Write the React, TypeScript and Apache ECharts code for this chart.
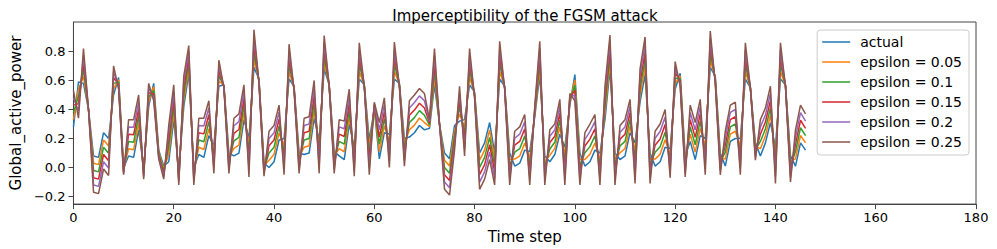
import React, { useEffect, useRef } from "react";
import * as echarts from "echarts";

// Values
const actual: number[] = [
  0.28, 0.59, 0.58, 0.40, 0.08, 0.07, 0.24, 0.20, 0.50, 0.62,
  0.00, 0.08, 0.07, 0.26, 0.00, 0.42, 0.58, 0.12, 0.01, 0.04,
  0.33, -0.02, 0.42, 0.65, 0.00, 0.09, 0.07, 0.22, 0.15, 0.56,
  0.57, 0.10, 0.08, 0.10, 0.33, 0.20, 0.69, 0.61, 0.03, 0.00,
  0.04, 0.19, 0.20, 0.61, 0.56, 0.10, 0.09, 0.10, 0.34, 0.19,
  0.68, 0.57, 0.11, 0.08, 0.055, 0.30, 0.14, 0.61, 0.57, 0.19,
  0.40, 0.06, 0.24, 0.23, 0.61, 0.58, 0.20, 0.21, 0.24, 0.29,
  0.26, 0.27, 0.57, 0.30, 0.10, 0.06, 0.29, 0.32, 0.33, 0.57,
  0.52, 0.10, 0.17, 0.31, 0.10, 0.61, 0.56, 0.10, 0.01, 0.03,
  0.12, 0.11, 0.35, 0.64, 0.08, 0.04, 0.09, 0.23, 0.14, 0.43,
  0.64, 0.10, 0.01, 0.04, 0.12, 0.10, 0.33, 0.68, 0.10, 0.055,
  0.08, 0.24, 0.17, 0.45, 0.64, 0.10, 0.01, 0.04, 0.14, 0.13,
  0.54, 0.65, 0.08, 0.18, 0.055, 0.22, 0.20, 0.69, 0.63, 0.10,
  0.01, 0.18, 0.20, 0.20, 0.61, 0.55, 0.17, 0.08, 0.17, 0.31,
  0.14, 0.61, 0.57, 0.08, 0.01, 0.17, 0.12,
];

// Direction/size of the FGSM shift per unit of epsilon, read from the gap
// between the actual line and the epsilon = 0.25 line at each step
const perturbDir: number[] = [
  1.0, -1.0, 0.96, 0.0, -1.0, -1.0, -1.0, -1.02, 0.8, -0.32,
  -0.2, 1.0, 1.04, 0.96, -0.32, 0.64, -0.48, -0.24, -0.36, 1.0,
  0.96, -0.4, 0.84, 0.76, -0.48, 1.0, 1.08, 0.96, -0.76, 0.72,
  -0.08, -0.56, 1.04, 1.08, 0.96, -1.06, 1.04, -0.12, -0.36, 1.0,
  1.0, 0.96, -1.0, 0.96, -0.12, -0.56, 1.0, 1.0, 1.04, -0.92,
  0.92, -0.04, -0.6, 1.0, 1.06, 0.96, -0.8, 1.0, -0.04, -0.96,
  0.2, 1.0, 0.96, -0.92, 1.02, -0.08, -0.76, 1.0, 1.04, 1.02,
  1.0, 0.24, 1.0, 0.0, -1.0, -1.0, -0.68, 0.96, -1.0, 1.0,
  -0.16, -1.0, -1.0, -1.02, -0.88, 1.04, -0.08, -0.88, 0.96, 1.0,
  0.98, -0.92, 0.28, 0.92, -0.8, 0.88, 0.84, 0.96, -1.04, 0.32,
  -0.72, -0.88, 0.92, 1.04, 0.98, -0.88, 0.92, 0.93, -0.88, 0.94,
  1.0, 0.92, -1.12, 0.92, 1.04, -0.84, 0.96, 1.04, 1.04, -0.8,
  0.76, -0.36, -0.58, 1.0, 1.02, 1.0, -1.0, 1.0, -0.2, -0.6,
  0.96, 1.0, 1.0, -1.0, 1.0, 0.0, -0.48, 1.0, 0.96, 1.0,
  -1.0, 1.0, -0.04, -0.72, 1.0, 1.04, 1.0,
];

const epsilons: number[] = [0.05, 0.1, 0.15, 0.2, 0.25];
const seriesNames: string[] = ["actual", "epsilon = 0.05", "epsilon = 0.1", "epsilon = 0.15", "epsilon = 0.2", "epsilon = 0.25"];
const colors: string[] = ["#1f77b4", "#ff7f0e", "#2ca02c", "#d62728", "#9467bd", "#8c564b"];
const xTicks: number[] = [0, 20, 40, 60, 80, 100, 120, 140, 160, 180];
const yTicks: number[] = [-0.2, 0.0, 0.2, 0.4, 0.6, 0.8];

const FONT = "DejaVu Sans";
const LINE_ICON = "path://M0,0L28,0L28,1.5L0,1.5Z";

export default function App() {
  const ref = useRef<HTMLDivElement>(null);

  useEffect(() => {
    if (!ref.current) return;
    const chart = echarts.init(ref.current, undefined, { renderer: "svg" });

    const actualData = actual.map((v, i) => [i, v]);
    const epsData = epsilons.map((eps) =>
      actual.map((v, i) => [i, +(v + eps * perturbDir[i]).toFixed(4)])
    );
    const allData = [actualData, ...epsData];

    const series = allData.map((d, k) => ({
      name: seriesNames[k],
      type: "line",
      data: d,
      symbol: "none",
      showSymbol: false,
      lineStyle: { width: 1.5, color: colors[k] },
      itemStyle: { color: colors[k] },
      z: 2 + k,
    }));

    const fmt = (v: number) => {
      const s = Math.abs(v) < 1e-9 ? "0.0" : v.toFixed(1);
      return s.replace("-", "\u2212");
    };

    chart.setOption({
      animation: false,
      backgroundColor: "#ffffff",
      title: {
        text: "Imperceptibility of the FGSM attack",
        left: 520,
        top: 3,
        textAlign: "center",
        textStyle: { fontFamily: FONT, fontSize: 15, fontWeight: "normal", color: "#000" },
      },
      grid: {
        left: 63,
        right: 21,
        top: 22,
        bottom: 44,
        show: true,
        borderColor: "#444",
        borderWidth: 1,
        backgroundColor: "transparent",
      },
      legend: {
        data: seriesNames.map((n) => ({ name: n, icon: LINE_ICON })),
        orient: "vertical",
        right: 28,
        top: 30,
        itemWidth: 28,
        itemHeight: 14,
        itemGap: 6,
        padding: [5, 7, 6, 5],
        backgroundColor: "rgba(255,255,255,0.8)",
        borderColor: "#cccccc",
        borderWidth: 1,
        borderRadius: 3,
        textStyle: { fontFamily: FONT, fontSize: 14, color: "#000", padding: [0, 0, 0, 5] },
      },
      xAxis: {
        type: "value",
        min: 0,
        max: 180,
        interval: 20,
        name: "Time step",
        nameLocation: "middle",
        nameGap: 19,
        nameTextStyle: { fontFamily: FONT, fontSize: 15, color: "#000" },
        axisLine: { show: true, onZero: false, lineStyle: { color: "#444", width: 1 } },
        axisTick: { show: true, inside: false, length: 5, lineStyle: { color: "#444" }, customValues: xTicks },
        axisLabel: { fontFamily: FONT, fontSize: 13, color: "#000", margin: 7, customValues: xTicks },
        splitLine: { show: false },
      },
      yAxis: {
        type: "value",
        min: -0.252,
        max: 1.003,
        name: "Global_active_power",
        nameLocation: "middle",
        nameGap: 40,
        nameTextStyle: { fontFamily: FONT, fontSize: 15, color: "#000" },
        axisLine: { show: true, onZero: false, lineStyle: { color: "#444", width: 1 } },
        axisTick: { show: true, inside: false, length: 5, lineStyle: { color: "#444" }, customValues: yTicks },
        axisLabel: { fontFamily: FONT, fontSize: 13, color: "#000", margin: 8, customValues: yTicks, formatter: fmt },
        splitLine: { show: false },
      },
      series,
    });

    return () => chart.dispose();
  }, []);

  return (
    <div
      ref={ref}
      style={{ position: "fixed", left: 0, top: 0, width: 997, height: 249, background: "#fff" }}
    />
  );
}
